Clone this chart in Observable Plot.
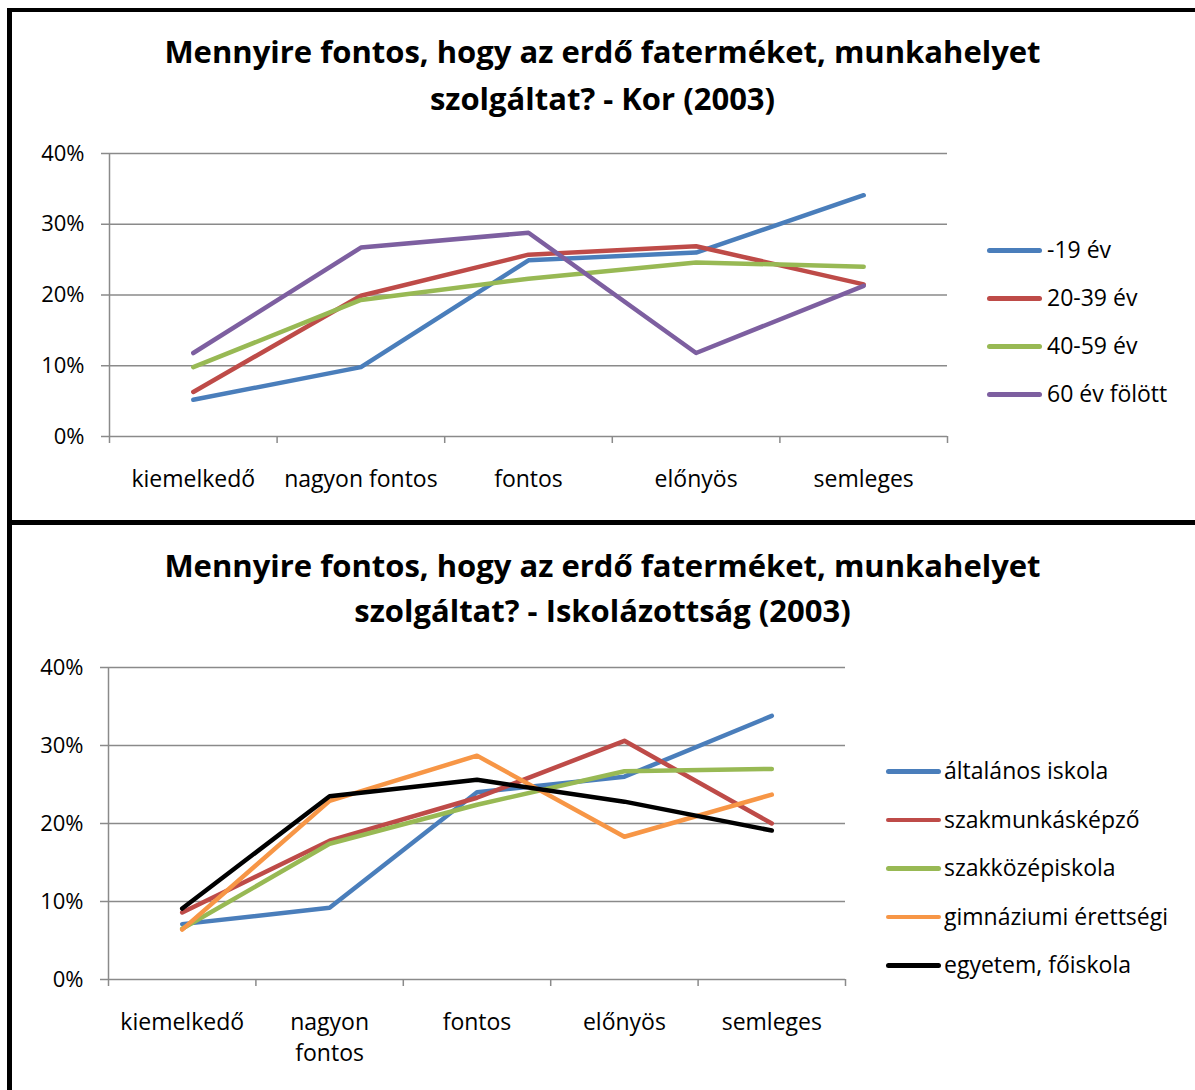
<!DOCTYPE html>
<html><head><meta charset="utf-8">
<script src="https://cdn.jsdelivr.net/npm/d3@7"></script>
<script src="https://cdn.jsdelivr.net/npm/@observablehq/plot@0.6"></script>
<style>
body{margin:0;background:#fff;}
#wrap{position:relative;width:1195px;height:1090px;overflow:hidden;font-family:"Open Sans", sans-serif;background:#fff;}
.title{position:absolute;left:10px;width:1185px;text-align:center;font-weight:bold;font-size:31px;color:#000;white-space:nowrap}
.border{position:absolute;background:#000}
.legend{position:absolute;font-size:23px;color:#000}
.legend .row{position:absolute;left:0;white-space:nowrap;height:0}
.legend .sw{position:absolute;left:0;width:55px;height:4.5px;border-radius:3px;top:-2px}
.legend .lab{position:absolute;top:-16px;line-height:30px}
.plot{position:absolute;left:0}
</style></head>
<body><div id="wrap"></div>
<script>
const categories = ["kiemelkedő","nagyon fontos","fontos","előnyös","semleges"];
const topTickLabels = ["kiemelkedő","nagyon fontos","fontos","előnyös","semleges"];
const bottomTickLabels = ["kiemelkedő","nagyon\nfontos","fontos","előnyös","semleges"];
const yTicks = [0, 0.1, 0.2, 0.3, 0.4];

const topTitle = ["Mennyire fontos, hogy az erdő faterméket, munkahelyet", "szolgáltat? - Kor (2003)"];
const ageSeries = ["-19 év","20-39 év","40-59 év","60 év fölött"];
const age19 = [0.052, 0.098, 0.249, 0.260, 0.341];
const age20_39 = [0.063, 0.199, 0.257, 0.269, 0.215];
const age40_59 = [0.098, 0.193, 0.223, 0.246, 0.240];
const age60 = [0.118, 0.267, 0.288, 0.118, 0.213];
const ageColors = ["#4A7EBB","#BE4B48","#98B954","#7D5FA0"];

const bottomTitle = ["Mennyire fontos, hogy az erdő faterméket, munkahelyet", "szolgáltat? - Iskolázottság (2003)"];
const eduSeries = ["általános iskola","szakmunkásképző","szakközépiskola","gimnáziumi érettségi","egyetem, főiskola"];
const eduAltalanos = [0.071, 0.092, 0.240, 0.260, 0.338];
const eduSzakmunkas = [0.086, 0.178, 0.233, 0.306, 0.200];
const eduSzakkozep = [0.065, 0.174, 0.224, 0.267, 0.270];
const eduGimnazium = [0.064, 0.229, 0.287, 0.183, 0.237];
const eduEgyetem = [0.091, 0.235, 0.256, 0.228, 0.191];
const eduColors = ["#4A7EBB","#BE4B48","#98B954","#F79646","#000000"];

const wrap = document.getElementById("wrap");
const GRID = "#8a8a8a";
const FONT = "'Open Sans', sans-serif";

function makeChart({seriesNames, seriesValues, colors, tickLabels, width, height, margins}) {
  const data = [];
  seriesNames.forEach((s, i) => seriesValues[i].forEach((v, j) => data.push({series: s, x: j + 0.5, value: v})));
  const n = categories.length;
  return Plot.plot({
    width, height, ...margins,
    style: {fontFamily: FONT, fontSize: "22px", color: "#000", background: "transparent", overflow: "visible"},
    x: {type: "linear", domain: [0, n], axis: null, label: null},
    y: {domain: [0, 0.4], axis: null, label: null},
    color: {domain: seriesNames, range: colors},
    marks: [
      Plot.ruleY(yTicks, {x1: 0, x2: n, stroke: GRID, strokeWidth: 1.5}),
      Plot.ruleX([0], {y1: 0, y2: 0.4, stroke: GRID, strokeWidth: 1.5}),
      Plot.axisY({ticks: yTicks, label: null, tickSize: 8, tickPadding: 17, tickFormat: d3.format(".0%"), stroke: GRID, strokeWidth: 1.5, fill: "#000", fontSize: 22}),
      Plot.axisX({ticks: d3.range(n + 1), label: null, tickSize: 7, tickFormat: () => "", stroke: GRID, strokeWidth: 1.5}),
      Plot.axisX({ticks: d3.range(n).map(i => i + 0.5), label: null, tickSize: 0, tickPadding: 27.5, tickFormat: d => tickLabels[Math.round(d - 0.5)], fill: "#000", fontSize: 23, lineHeight: 1.38}),
      Plot.line(data, {x: "x", y: "value", z: "series", stroke: "series", strokeWidth: 4.5, strokeLinecap: "round", strokeLinejoin: "round"})
    ]
  });
}

function addTitle(lines, top, lineHeight) {
  const d = document.createElement("div");
  d.className = "title";
  d.style.top = top + "px";
  d.style.lineHeight = lineHeight + "px";
  d.innerHTML = lines.join("<br>");
  wrap.appendChild(d);
}

function addLegend(names, colors, left, top, spacing, labelLeft) {
  const lg = document.createElement("div");
  lg.className = "legend";
  lg.style.left = left + "px";
  lg.style.top = top + "px";
  names.forEach((nm, i) => {
    const r = document.createElement("div");
    r.className = "row";
    r.style.top = (i * spacing) + "px";
    r.innerHTML = `<div class="sw" style="background:${colors[i]}"></div><div class="lab" style="left:${labelLeft}px">${nm}</div>`;
    lg.appendChild(r);
  });
  wrap.appendChild(lg);
}

function addBorder(l, t, w, h) {
  const b = document.createElement("div");
  b.className = "border";
  Object.assign(b.style, {left: l + "px", top: t + "px", width: w + "px", height: h + "px"});
  wrap.appendChild(b);
}

addBorder(7, 8, 1188, 3.5);
addBorder(7, 520, 1188, 4.5);
addBorder(7, 8, 5, 1082);

addTitle(topTitle, 28, 47);
addTitle(bottomTitle, 543, 45);

const c1 = makeChart({
  seriesNames: ageSeries, seriesValues: [age19, age20_39, age40_59, age60], colors: ageColors,
  tickLabels: topTickLabels, width: 960, height: 390,
  margins: {marginTop: 23, marginBottom: 84, marginLeft: 109, marginRight: 13}
});
c1.classList.add("plot"); c1.style.top = "130px";
wrap.appendChild(c1);

const c2 = makeChart({
  seriesNames: eduSeries, seriesValues: [eduAltalanos, eduSzakmunkas, eduSzakkozep, eduGimnazium, eduEgyetem], colors: eduColors,
  tickLabels: bottomTickLabels, width: 860, height: 450,
  margins: {marginTop: 27, marginBottom: 111, marginLeft: 108, marginRight: 15}
});
c2.classList.add("plot"); c2.style.top = "640px";
wrap.appendChild(c2);

addLegend(ageSeries, ageColors, 987, 250, 48, 60);
addLegend(eduSeries, eduColors, 886, 771, 48.5, 58);
</script>
</body></html>
